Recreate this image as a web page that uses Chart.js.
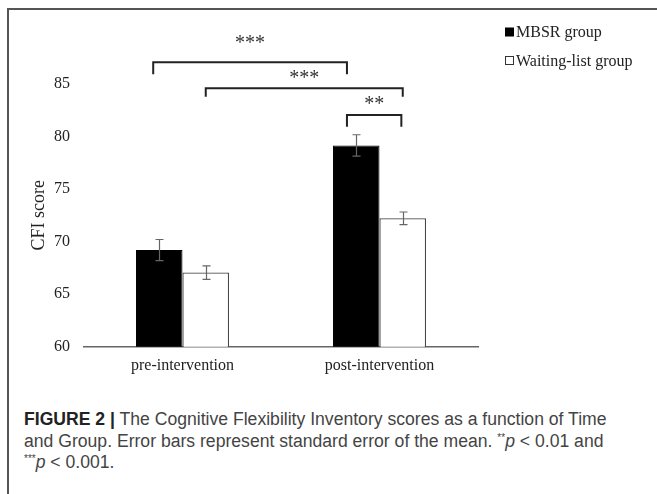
<!DOCTYPE html>
<html>
<head>
<meta charset="utf-8">
<script src="https://cdn.jsdelivr.net/npm/chart.js@4.4.1/dist/chart.umd.min.js"></script>
<style>
  html, body { margin: 0; padding: 0; background: #fff; }
  #page { position: relative; width: 657px; height: 494px; overflow: hidden; }
  #frame { position: absolute; left: 7px; top: 8px; width: 660px; height: 500px;
           border-top: 2px solid #555; border-left: 2px solid #555; }
  #wrap { position: absolute; left: 0; top: 0; width: 657px; height: 400px; }
  #caption { position: absolute; left: 24px; top: 409px; width: 630px;
             font-family: "Liberation Sans", Arial, sans-serif; font-size: 17.6px;
             line-height: 21.5px; color: #444; white-space: nowrap; }
  #caption b { color: #222; }
  #caption sup { font-size: 10px; line-height: 0; vertical-align: 6px; }
</style>
</head>
<body>
<div id="page">
  <div id="frame"></div>
  <div id="wrap"><canvas id="chart"></canvas></div>
  <div id="caption">
    <b>FIGURE 2 |</b> The Cognitive Flexibility Inventory scores as a function of Time<br>
    and Group. Error bars represent standard error of the mean. <sup>**</sup><i>p</i> &lt; 0.01 and<br>
    <sup>***</sup><i>p</i> &lt; 0.001.
  </div>
</div>
<script>
// data
const categories = ['pre-intervention', 'post-intervention'];
const seriesNames = ['MBSR group', 'Waiting-list group'];
const mbsrMeans = [69.2, 79.15];
const mbsrSE = [1.0, 1.02];
const waitMeans = [67.05, 72.22];
const waitSE = [0.64, 0.6];
const yTicks = [60, 65, 70, 75, 80, 85];

// perbandingan signifikansi: [dataset, kategori] -> [dataset, kategori]
const sigFrom = [[0, 0], [1, 0], [0, 1]];
const sigTo = [[0, 1], [1, 1], [1, 1]];
const sigY = [87.07, 84.59, 82.05];
const sigDrop = [1.15, 0.8, 1.11];
const sigLabel = ['***', '***', '**'];
const sigLabelY = [89.28, 85.95, 83.48];
const sigShift = [[-0.13, -0.2], [0, 0], [-0.2, -0.03]];

const serif = '"Liberation Serif", "Times New Roman", serif';

const extras = {
  id: 'extras',
  afterDatasetsDraw(chart) {
    const ctx = chart.ctx;
    const y = chart.scales.y;
    const seList = [mbsrSE, waitSE];
    const meanList = [mbsrMeans, waitMeans];
    ctx.save();
    // error bars
    ctx.strokeStyle = '#666';
    ctx.lineWidth = 1.2;
    for (let d = 0; d < 2; d++) {
      const meta = chart.getDatasetMeta(d);
      meta.data.forEach((bar, i) => {
        const x = Math.round(bar.x) + 0.5;
        const top = y.getPixelForValue(meanList[d][i] + seList[d][i]);
        const bot = y.getPixelForValue(meanList[d][i] - seList[d][i]);
        ctx.beginPath();
        ctx.moveTo(x, top); ctx.lineTo(x, bot);
        ctx.moveTo(x - 4, top); ctx.lineTo(x + 4, top);
        ctx.moveTo(x - 4, bot); ctx.lineTo(x + 4, bot);
        ctx.stroke();
      });
    }
    // brackets
    ctx.strokeStyle = '#222';
    ctx.lineWidth = 2;
    ctx.fillStyle = '#333';
    ctx.font = '20px ' + serif;
    ctx.textAlign = 'center';
    ctx.textBaseline = 'alphabetic';
    for (let k = 0; k < sigFrom.length; k++) {
      const a = chart.getDatasetMeta(sigFrom[k][0]).data[sigFrom[k][1]];
      const b = chart.getDatasetMeta(sigTo[k][0]).data[sigTo[k][1]];
      const x1 = a.x + sigShift[k][0] * a.width;
      const x2 = b.x + sigShift[k][1] * b.width;
      const yh = y.getPixelForValue(sigY[k]);
      const yl = y.getPixelForValue(sigY[k] - sigDrop[k]);
      ctx.beginPath();
      ctx.moveTo(x1, yl); ctx.lineTo(x1, yh); ctx.lineTo(x2, yh); ctx.lineTo(x2, yl);
      ctx.stroke();
      const m = ctx.measureText(sigLabel[k]);
      const cy = y.getPixelForValue(sigLabelY[k]);
      ctx.fillText(sigLabel[k], (x1 + x2) / 2, cy + (m.actualBoundingBoxAscent - m.actualBoundingBoxDescent) / 2);
    }
    // legend
    const lx = chart.chartArea.right + 27;
    const rows = [32, 60.5];
    ctx.font = '16px ' + serif;
    ctx.textAlign = 'left';
    ctx.textBaseline = 'middle';
    for (let d = 0; d < 2; d++) {
      if (d === 0) {
        ctx.fillStyle = '#000';
        ctx.fillRect(lx, rows[d] - 4.5, 9, 9);
      } else {
        ctx.strokeStyle = '#333';
        ctx.lineWidth = 1;
        ctx.strokeRect(lx + 0.5, rows[d] - 4, 8, 8);
      }
      ctx.fillStyle = '#222';
      ctx.fillText(seriesNames[d], lx + 11, rows[d] + 1);
    }
    ctx.restore();
  }
};

new Chart(document.getElementById('chart'), {
  type: 'bar',
  data: {
    labels: categories,
    datasets: [{
      label: seriesNames[0],
      data: mbsrMeans,
      backgroundColor: '#000',
      borderColor: '#000',
      borderWidth: 1
    }, {
      label: seriesNames[1],
      data: waitMeans,
      backgroundColor: '#fff',
      borderColor: '#444',
      borderWidth: 1.2
    }]
  },
  options: {
    responsive: true,
    maintainAspectRatio: false,
    animation: false,
    events: [],
    layout: { padding: { top: 84, right: 179, left: 0, bottom: 0 } },
    datasets: { bar: { barPercentage: 1, categoryPercentage: 0.472, borderSkipped: 'bottom' } },
    plugins: { legend: { display: false }, tooltip: { enabled: false } },
    scales: {
      x: {
        grid: { display: false, drawTicks: false },
        border: { display: true, color: '#666', width: 1.5 },
        ticks: { color: '#222', padding: 9, font: { family: serif, size: 16 } },
        afterFit: (s) => { s.height = 53.3; }
      },
      y: {
        min: 60,
        max: 85,
        grid: { display: false, drawTicks: false },
        border: { display: false },
        afterBuildTicks: (s) => { s.ticks = yTicks.map(v => ({ value: v })); },
        ticks: { color: '#222', padding: 14, font: { family: serif, size: 16 } },
        title: {
          display: true,
          text: 'CFI score',
          color: '#222',
          font: { family: serif, size: 18 },
          padding: { top: 28, bottom: 0 }
        },
        afterFit: (s) => { s.width = 84; }
      }
    }
  },
  plugins: [extras]
});
</script>
</body>
</html>
